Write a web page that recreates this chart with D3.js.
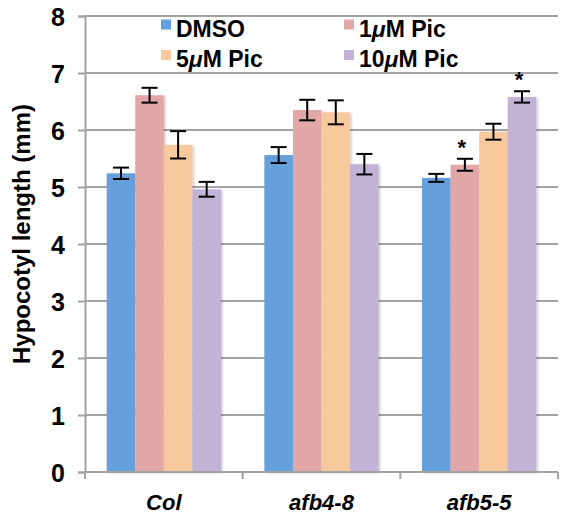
<!DOCTYPE html>
<html>
<head>
<meta charset="utf-8">
<script src="https://cdn.jsdelivr.net/npm/d3@7"></script>
<style>
  body { margin: 0; background: #fff; }
  svg { font-family: "Liberation Sans", Arial, sans-serif; }
</style>
</head>
<body>
<svg id="chart" width="563" height="531"></svg>
<script>
// data
var genotypes = ["Col", "afb4-8", "afb5-5"];
var treatments = ["DMSO", "1\u03bcM Pic", "5\u03bcM Pic", "10\u03bcM Pic"];
var colors = ["#65a0dc", "#e1a8a7", "#f9c99e", "#c2b2d5"];
var means = [
  [5.24, 6.61, 5.74, 4.96],
  [5.56, 6.35, 6.31, 5.40],
  [5.16, 5.39, 5.97, 6.58]
];
var errs = [
  [0.10, 0.13, 0.24, 0.13],
  [0.14, 0.18, 0.21, 0.18],
  [0.07, 0.105, 0.14, 0.10]
];
var stars = [
  [false, false, false, false],
  [false, false, false, false],
  [false, true, false, true]
];
var yTicks = [0, 1, 2, 3, 4, 5, 6, 7, 8];

var svg = d3.select("#chart");
var plotL = 85, plotR = 558, plotT = 16, plotB = 472;
var grid = "#a3a3a3";

var y = d3.scaleLinear().domain([0, 8]).range([plotB, plotT]);
var x0 = d3.scaleBand().domain(genotypes).range([plotL, plotR]);
var x1 = d3.scaleBand().domain(treatments).range([21.7, x0.bandwidth() - 21.7]);

// gridlines
svg.append("g").selectAll("line").data(yTicks.slice(1)).enter().append("line")
  .attr("x1", plotL).attr("x2", plotR)
  .attr("y1", function(d){ return y(d); }).attr("y2", function(d){ return y(d); })
  .attr("stroke", grid).attr("stroke-width", 2);

// bars
var defs = svg.append("defs");
var f = defs.append("filter").attr("id", "sh").attr("x", "-20%").attr("y", "-5%").attr("width", "150%").attr("height", "120%");
f.append("feDropShadow").attr("dx", 1.5).attr("dy", 1).attr("stdDeviation", 1.2).attr("flood-color", "#000").attr("flood-opacity", 0.22);

var groups = svg.append("g").selectAll("g").data(genotypes).enter().append("g")
  .attr("transform", function(d){ return "translate(" + x0(d) + ",0)"; });

groups.each(function(g, gi){
  var sel = d3.select(this);
  treatments.forEach(function(t, ti){
    var v = means[gi][ti];
    sel.append("rect")
      .attr("x", x1(t)).attr("width", x1.bandwidth())
      .attr("y", y(v)).attr("height", y(0) - y(v))
      .attr("fill", colors[ti]).attr("filter", "url(#sh)");
  });
  treatments.forEach(function(t, ti){
    var v = means[gi][ti], e = errs[gi][ti];
    var cx = x1(t) + x1.bandwidth() / 2;
    var eb = sel.append("g").attr("stroke", "#000").attr("stroke-width", 2);
    eb.append("line").attr("x1", cx).attr("x2", cx).attr("y1", y(v + e)).attr("y2", y(v - e));
    eb.append("line").attr("x1", cx - 8).attr("x2", cx + 8).attr("y1", y(v + e)).attr("y2", y(v + e));
    eb.append("line").attr("x1", cx - 8).attr("x2", cx + 8).attr("y1", y(v - e)).attr("y2", y(v - e));
    if (stars[gi][ti]) {
      sel.append("text").attr("x", cx - 3).attr("y", y(v + e) - 4)
        .attr("text-anchor", "middle").attr("font-size", 22).attr("font-weight", "bold")
        .text("*");
    }
  });
});

// axes
var yAxis = svg.append("g").attr("transform", "translate(" + plotL + ",0)")
  .call(d3.axisLeft(y).tickValues(yTicks).tickSize(7).tickPadding(13).tickFormat(d3.format("d")));
yAxis.select(".domain").attr("stroke", grid).attr("stroke-width", 2);
yAxis.selectAll(".tick line").attr("stroke", grid).attr("stroke-width", 2);
yAxis.selectAll("text").attr("font-size", 25).attr("font-weight", "bold").attr("fill", "#000")
  .attr("font-family", "Liberation Sans, Arial, sans-serif").attr("dy", "0.36em");

var xAxis = svg.append("g").attr("transform", "translate(0," + plotB + ")");
xAxis.append("line").attr("x1", plotL).attr("x2", plotR).attr("stroke", grid).attr("stroke-width", 2);
xAxis.selectAll(".xt").data(genotypes.concat(["end"])).enter().append("line")
  .attr("x1", function(d, i){ return i < genotypes.length ? x0(d) : plotR; })
  .attr("x2", function(d, i){ return i < genotypes.length ? x0(d) : plotR; })
  .attr("y1", 0).attr("y2", 7).attr("stroke", grid).attr("stroke-width", 2);
xAxis.selectAll("text").data(genotypes).enter().append("text")
  .attr("x", function(d){ return x0(d) + x0.bandwidth() / 2; })
  .attr("y", 38).attr("text-anchor", "middle")
  .attr("font-size", 22).attr("font-weight", "bold").attr("font-style", "italic")
  .text(function(d){ return d; });

// y title
svg.append("text").attr("transform", "translate(30,234) rotate(-90)")
  .attr("text-anchor", "middle").attr("font-size", 24).attr("font-weight", "bold")
  .text("Hypocotyl length (mm)");

// legend
var legPos = [[161, 36.5], [344, 36.5], [161, 67], [344, 67]];
var leg = svg.append("g");
treatments.forEach(function(t, i){
  var p = legPos[i];
  leg.append("rect").attr("x", p[0]).attr("y", p[1] - 17).attr("width", 10).attr("height", 10).attr("fill", colors[i]);
  var txt = leg.append("text").attr("x", p[0] + 15).attr("y", p[1])
    .attr("font-size", 23).attr("font-weight", "bold");
  var parts = t.split("\u03bc");
  if (parts.length > 1) {
    txt.append("tspan").text(parts[0]);
    txt.append("tspan").attr("font-style", "italic").text("\u03bc");
    txt.append("tspan").text(parts[1]);
  } else {
    txt.text(t);
  }
});
</script>
</body>
</html>
